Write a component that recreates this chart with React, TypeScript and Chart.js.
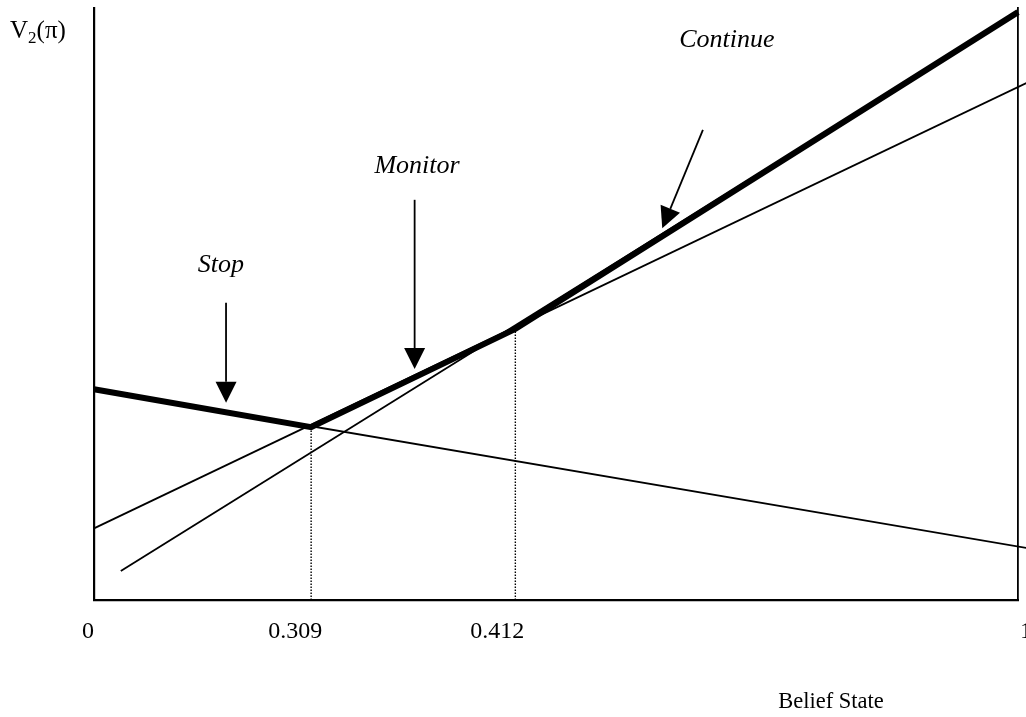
import React, { useEffect, useRef } from "react";
import { Chart, registerables } from "chart.js";

Chart.register(...registerables);

// Belief-state tick positions (as drawn) and their labels
const tickValues = [0, 0.235, 0.456, 1];
const tickLabels = ["0", "0.309", "0.412", "1"];

// Upper envelope V2(pi) (thick line)
const envelopeX = [0, 0.235, 0.456, 1];
const envelopeY = [0.356, 0.292, 0.458, 0.993];

// Individual action value lines (thin)
const stopX = [0, 1.009];
const stopY = [0.356, 0.088];
const monitorX = [0, 1.009];
const monitorY = [0.121, 0.873];
const continueX = [0.029, 1];
const continueY = [0.049, 0.993];

// Threshold guide lines (dotted)
const thresholdX = [0.235, 0.456];
const thresholdY = [0.292, 0.458];

// Region annotations
const regionNames = ["Stop", "Monitor", "Continue"];
const labelX = [0.1374, 0.3496, 0.685];
const labelY = [0.554, 0.721, 0.934];
const arrowFromX = [0.1429, 0.347, 0.659];
const arrowFromY = [0.502, 0.676, 0.794];
const arrowToX = [0.1429, 0.347, 0.615];
const arrowToY = [0.333, 0.39, 0.628];

const SERIF = "'Liberation Serif', 'Times New Roman', serif";

const pts = (xs: number[], ys: number[]) => xs.map((x, i) => ({ x, y: ys[i] }));

const annotate = {
  id: "annotate",
  afterDraw(chart: any) {
    const { ctx } = chart;
    const xs = chart.scales.x;
    const ys = chart.scales.y;
    ctx.save();
    ctx.fillStyle = "#000";
    ctx.strokeStyle = "#000";

    // tick labels
    const tickOffsets = [-6, -16, -18, 8];
    ctx.font = `24px ${SERIF}`;
    ctx.textAlign = "center";
    ctx.textBaseline = "alphabetic";
    tickLabels.forEach((t, i) => {
      ctx.fillText(t, xs.getPixelForValue(tickValues[i]) + tickOffsets[i], 638);
    });

    // x axis title
    ctx.font = `22.5px ${SERIF}`;
    ctx.fillText("Belief State", 831, 708);

    // y axis title V2(pi)
    ctx.textAlign = "left";
    let px = 10;
    ctx.font = `25px ${SERIF}`;
    ctx.fillText("V", px, 38);
    px += ctx.measureText("V").width;
    ctx.font = `17px ${SERIF}`;
    ctx.fillText("2", px, 43);
    px += ctx.measureText("2").width;
    ctx.font = `25px ${SERIF}`;
    ctx.fillText("(\u03C0)", px, 38);

    // region labels
    ctx.font = `italic 26px ${SERIF}`;
    ctx.textAlign = "center";
    regionNames.forEach((n, i) => {
      ctx.fillText(n, xs.getPixelForValue(labelX[i]), ys.getPixelForValue(labelY[i]));
    });

    // arrows
    const headLen = 21;
    const headHalf = 10.5;
    ctx.lineWidth = 1.8;
    regionNames.forEach((_, i) => {
      const x0 = xs.getPixelForValue(arrowFromX[i]);
      const y0 = ys.getPixelForValue(arrowFromY[i]);
      const x1 = xs.getPixelForValue(arrowToX[i]);
      const y1 = ys.getPixelForValue(arrowToY[i]);
      const dx = x1 - x0;
      const dy = y1 - y0;
      const len = Math.hypot(dx, dy);
      const ux = dx / len;
      const uy = dy / len;
      const bx = x1 - ux * headLen;
      const by = y1 - uy * headLen;
      ctx.beginPath();
      ctx.moveTo(x0, y0);
      ctx.lineTo(bx, by);
      ctx.stroke();
      ctx.beginPath();
      ctx.moveTo(x1, y1);
      ctx.lineTo(bx - uy * headHalf, by + ux * headHalf);
      ctx.lineTo(bx + uy * headHalf, by - ux * headHalf);
      ctx.closePath();
      ctx.fill();
    });
    ctx.restore();
  },
};

export default function App() {
  const ref = useRef<HTMLCanvasElement | null>(null);
  useEffect(() => {
    if (!ref.current) return;
    const thin = {
      borderColor: "#000",
      borderWidth: 1.8,
      pointRadius: 0,
      showLine: true,
      clip: false as any,
    };
    const chart = new Chart(ref.current, {
      type: "scatter",
      data: {
        datasets: [
          {
            label: "V2",
            data: pts(envelopeX, envelopeY),
            borderColor: "#000",
            borderWidth: 6,
            borderJoinStyle: "miter",
            pointRadius: 0,
            showLine: true,
            clip: false as any,
          },
          { label: "Stop", data: pts(stopX, stopY), ...thin },
          { label: "Monitor", data: pts(monitorX, monitorY), ...thin },
          { label: "Continue", data: pts(continueX, continueY), ...thin },
          {
            label: "t1",
            data: [
              { x: thresholdX[0], y: 0 },
              { x: thresholdX[0], y: thresholdY[0] },
            ],
            borderColor: "#000",
            borderWidth: 1.4,
            borderDash: [1.5, 1.5],
            pointRadius: 0,
            showLine: true,
          },
          {
            label: "t2",
            data: [
              { x: thresholdX[1], y: 0 },
              { x: thresholdX[1], y: thresholdY[1] },
            ],
            borderColor: "#000",
            borderWidth: 1.4,
            borderDash: [1.5, 1.5],
            pointRadius: 0,
            showLine: true,
          },
        ],
      },
      options: {
        responsive: false,
        animation: false,
        devicePixelRatio: 1,
        events: [],
        layout: { padding: { left: 94, right: 8, top: 8, bottom: 117 } },
        plugins: { legend: { display: false }, tooltip: { enabled: false } },
        scales: {
          x: {
            type: "linear",
            min: 0,
            max: 1,
            grid: { display: false, drawTicks: false },
            ticks: { display: false },
            border: { display: true, color: "#000", width: 2.2 },
          },
          y: {
            type: "linear",
            position: "left",
            min: 0,
            max: 1,
            grid: { display: false, drawTicks: false },
            ticks: { display: false },
            border: { display: true, color: "#000", width: 2.2 },
          },
          y2: {
            type: "linear",
            position: "right",
            min: 0,
            max: 1,
            grid: { display: false, drawTicks: false },
            ticks: { display: false },
            border: { display: true, color: "#000", width: 1.8 },
          },
        },
      },
      plugins: [annotate],
    });
    return () => chart.destroy();
  }, []);
  return (
    <div style={{ position: "fixed", left: 0, top: 0, width: 1026, height: 717, background: "#fff" }}>
      <canvas ref={ref} width={1026} height={717} style={{ display: "block" }} />
    </div>
  );
}
